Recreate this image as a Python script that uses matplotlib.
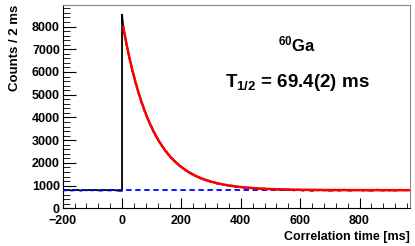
import numpy as np
import matplotlib.pyplot as plt
from matplotlib.ticker import MultipleLocator

plt.rcParams['font.family'] = ['Liberation Sans', 'DejaVu Sans']
plt.rcParams['mathtext.fontset'] = 'custom'
plt.rcParams['mathtext.rm'] = 'Liberation Sans:bold'
plt.rcParams['mathtext.bf'] = 'Liberation Sans:bold'
plt.rcParams['mathtext.it'] = 'Liberation Sans:bold'

# histogram data (counts / 2 ms)
pre_t = np.arange(-200, 0, 10)
pre_counts = [805, 790, 812, 784, 798, 821, 779, 803, 795, 810,
              788, 816, 792, 780, 807, 799, 786, 812, 794, 772]

decay_t = np.arange(0, 300, 5)
decay_counts = [8520, 7880, 7610, 7190, 6950, 6580, 6370, 6010, 5850, 5520,
                5370, 5070, 4950, 4660, 4540, 4300, 4190, 3960, 3870, 3660,
                3580, 3390, 3310, 3140, 3080, 2920, 2860, 2720, 2670, 2530,
                2490, 2370, 2330, 2210, 2190, 2080, 2060, 1960, 1940, 1850,
                1830, 1750, 1740, 1650, 1650, 1570, 1570, 1500, 1500, 1430,
                1430, 1370, 1370, 1310, 1320, 1270, 1270, 1220, 1230, 1180]

tail_t = np.arange(300, 970, 10)
tail_counts = [1160, 1150, 1090, 1085, 1040, 1035, 995, 1000, 960, 945,
               945, 915, 905, 910, 880, 890, 870, 860, 870, 840,
               855, 835, 845, 820, 835, 815, 830, 810, 790, 825,
               800, 780, 815, 795, 770, 805, 790, 815, 785, 800,
               775, 790, 810, 780, 795, 820, 790, 780, 805, 795,
               815, 785, 800, 790, 775, 805, 820, 795, 785, 810,
               790, 800, 780, 805, 815, 795, 800]

# fit curve (exp decay + constant background)
fit_t = [4, 10, 20, 30, 40, 50, 60, 70, 80, 90, 100, 110, 120, 130, 140,
         150, 160, 170, 180, 190, 200, 220, 240, 260, 280, 300, 320, 340,
         360, 380, 400, 420, 440, 460, 480, 500, 550, 600, 650, 700, 800,
         900, 970]
fit_y = [7980, 7560, 6918, 6336, 5810, 5334, 4903, 4513, 4160, 3841, 3552,
         3290, 3054, 2840, 2646, 2470, 2312, 2168, 2038, 1920, 1814, 1630,
         1480, 1357, 1256, 1174, 1106, 1050, 1005, 968, 937, 912, 892, 875,
         862, 851, 831, 819, 811, 807, 802, 800, 800]
background = 800

t_all = np.concatenate([pre_t, [0], decay_t, tail_t])
c_all = np.concatenate([pre_counts, [pre_counts[-1]], decay_counts, tail_counts])

fig = plt.figure(figsize=(4.15, 2.46), dpi=100)
ax = fig.add_axes([0.151, 0.153, 0.837, 0.827])

ax.plot(t_all, c_all, color='black', lw=1.3, zorder=2)
ax.axhline(background, color='blue', ls='--', lw=1.3, dashes=(3, 2), zorder=3)
ax.plot(fit_t, fit_y, color='red', lw=1.8, zorder=4)

ax.set_xlim(-200, 970)
ax.set_ylim(0, 8950)

ax.xaxis.set_major_locator(MultipleLocator(200))
ax.xaxis.set_minor_locator(MultipleLocator(40))
ax.yaxis.set_major_locator(MultipleLocator(1000))
ax.yaxis.set_minor_locator(MultipleLocator(200))
ax.tick_params(which='both', direction='in', top=False, right=False,
               labelsize=9)
ax.tick_params(axis='x', which='major', length=7, pad=5)
ax.tick_params(axis='x', which='minor', length=3.5)
ax.tick_params(axis='y', which='major', length=9, pad=2)
ax.tick_params(axis='y', which='minor', length=5)
for lab in ax.get_xticklabels() + ax.get_yticklabels():
    lab.set_fontweight('bold')
for s in ['top', 'right']:
    ax.spines[s].set_color('#888888')

ax.set_xlabel('Correlation time [ms]', fontsize=9, fontweight='bold',
              ha='right', x=1.0, labelpad=2.5)
ax.set_ylabel('Counts / 2 ms', fontsize=9.5, fontweight='bold',
              ha='right', y=1.0, labelpad=8)

ax.text(0.675, 0.805, r'$^{60}$Ga', transform=ax.transAxes, fontsize=12,
        fontweight='bold', ha='center', va='center')
ax.text(0.675, 0.62, r'T$_{1/2}$ = 69.4(2) ms', transform=ax.transAxes,
        fontsize=13.5, fontweight='bold', ha='center', va='center')

fig.savefig('out.png', dpi=100)
